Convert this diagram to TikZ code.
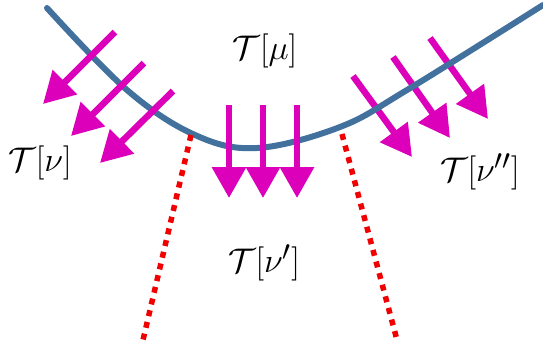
\documentclass[tikz,border=0pt]{standalone}
\usepackage{amsmath,amssymb}
\usepackage{graphicx}
\usetikzlibrary{arrows.meta}
\definecolor{curveblue}{RGB}{66,113,158}
\definecolor{fluxpink}{RGB}{221,0,187}
\definecolor{cutred}{RGB}{240,0,0}
\newcommand{\biglbl}[1]{\scalebox{1.38}{$#1$}}

\begin{document}
\begin{tikzpicture}[x=1bp,y=-1bp,
    flux/.style={fluxpink,line width=6.5bp,-{Triangle[length=31bp,width=33bp]}},
    cut/.style={cutred,line width=5.5bp,dash pattern=on 6bp off 6bp},
    lbl/.style={font=\Huge,inner sep=0pt}]
        \useasboundingbox (0,0) rectangle (543,347);
        % right-hand arrows sit under the curve
        \foreach \a/\b/\c/\d in {353/76/412/157,393/57/450/138,430/38/488/119}
            \draw[flux] (\a,\b)--(\c,\d);
        \draw[curveblue,line width=6bp,line cap=round] plot[smooth,tension=0.6] coordinates
            {(47,8) (127,90) (195,135) (257,148) (340,127) (407,90) (543,5)};
        \foreach \a/\b/\c/\d in {115/32/43/104,144/63/71/136,173/91/100/163}
            \draw[flux] (\a,\b)--(\c,\d);
        \foreach \x in {229,263,297}
            \draw[flux] (\x,105)--(\x,198);
        \draw[cut] (191,135)--(143,340);
        \draw[cut] (342,134)--(397,340);
        \node[lbl] (mu) at (265,51) {\biglbl{\mathcal{T}[\mu]}};
        \node[lbl] (nu) at (40,163) {\biglbl{\mathcal{T}[\nu]}};
        \node[lbl] (nup) at (264,263) {\biglbl{\mathcal{T}[\nu']}};
        \node[lbl] (nupp) at (480,172) {\biglbl{\mathcal{T}[\nu'']}};
      \end{tikzpicture}
\end{document}
